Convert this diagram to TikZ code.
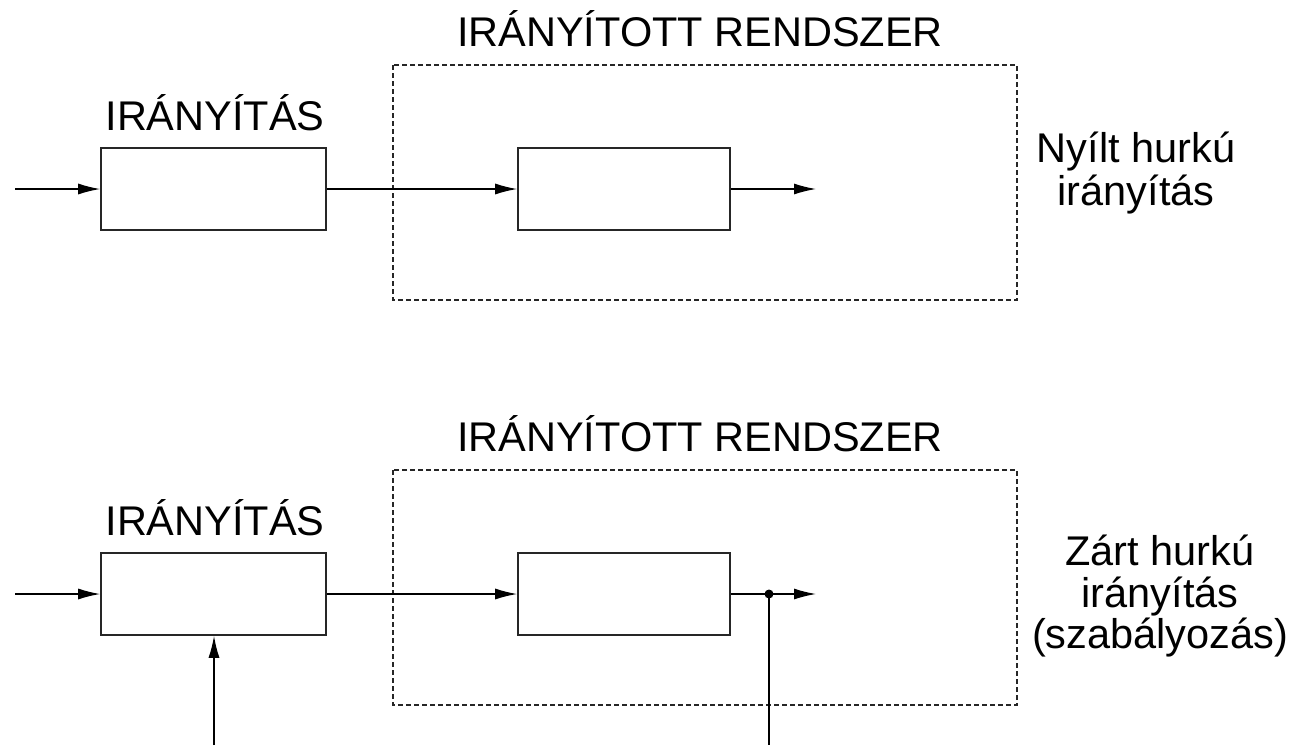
\documentclass[tikz,border=0pt]{standalone}
\usepackage{fontspec}
\setmainfont{Liberation Sans}
\usetikzlibrary{arrows.meta}
\begin{document}
\begin{tikzpicture}[x=1pt,y=-1pt,
  blk/.style={draw=black!85, line width=1.6pt, inner sep=0pt, minimum height=82pt},
  sysbox/.style={draw=black!85, line width=1.3pt, dash pattern=on 5pt off 3pt},
  conn/.style={line width=1.4pt, -{Latex[length=22pt,width=11pt]}},
  plain/.style={line width=1.4pt},
  lbl/.style={inner sep=0pt, anchor=base, font=\fontsize{41.5}{42}\selectfont}
]
\useasboundingbox (0,0) rectangle (1292,745);

% ---------- top row: open loop ----------
\node[lbl] (title1) at (700,46) {IRÁNYÍTOTT RENDSZER};
\node[lbl] (ctl1lbl) at (215,130) {IRÁNYÍTÁS};
\draw[sysbox] (393,65) rectangle (1017,300);
\node[blk, minimum width=225pt] (ctl1) at (213.5,189) {};
\node[blk, minimum width=212pt] (sys1) at (624,189) {};
\coordinate (in1) at (15,189);
\coordinate (out1) at (816,189);
\draw[conn] (in1) -- (ctl1.west);
\draw[conn] (ctl1.east) -- (sys1.west);
\draw[conn] (sys1.east) -- (out1);
\node[lbl] (r1a) at (1136,162) {Nyílt hurkú};
\node[lbl] (r1b) at (1136,205) {irányítás};

% ---------- bottom row: closed loop ----------
\node[lbl] (title2) at (700,451) {IRÁNYÍTOTT RENDSZER};
\node[lbl] (ctl2lbl) at (215,535) {IRÁNYÍTÁS};
\draw[sysbox] (393,470) rectangle (1017,705);
\node[blk, minimum width=225pt] (ctl2) at (213.5,594) {};
\node[blk, minimum width=212pt] (sys2) at (624,594) {};
\coordinate (in2) at (15,594);
\coordinate (out2) at (816,594);
\coordinate (dot) at (769,594);
\coordinate (ref) at (214,745);
\coordinate (fb) at (769,745);
\draw[conn] (in2) -- (ctl2.west);
\draw[conn] (ctl2.east) -- (sys2.west);
\draw[plain] (sys2.east) -- (dot);
\draw[conn] (dot) -- (out2);
\fill (dot) circle (4.5pt);
\draw[plain] (dot) -- (fb);
\draw[conn] (ref) -- (ref |- ctl2.south);
\node[lbl] (r2a) at (1160,565) {Zárt hurkú};
\node[lbl] (r2b) at (1160,607) {irányítás};
\node[lbl] (r2c) at (1160,648) {(szabályozás)};
\end{tikzpicture}
\end{document}
